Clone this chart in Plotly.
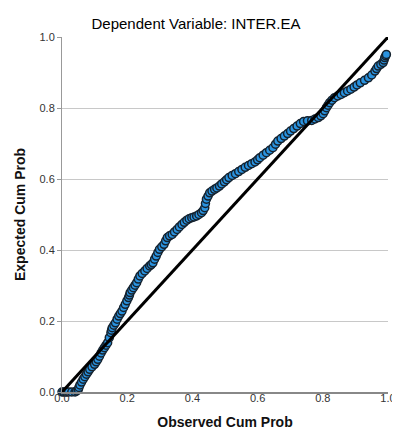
import plotly.graph_objects as go

observed = [0.0, 0.005, 0.01, 0.015, 0.02, 0.03, 0.04, 0.045, 0.05, 0.052, 0.055, 0.06, 0.065, 0.07,
            0.075, 0.08, 0.085, 0.092, 0.10, 0.105, 0.11, 0.115, 0.12, 0.125, 0.13, 0.135, 0.14,
            0.145, 0.15, 0.152, 0.154, 0.159, 0.164, 0.169, 0.174, 0.179, 0.184, 0.189, 0.194,
            0.199, 0.204, 0.207, 0.209, 0.214, 0.219, 0.224, 0.229, 0.234, 0.239, 0.246, 0.254,
            0.261, 0.269, 0.274, 0.279, 0.284, 0.289, 0.294, 0.299, 0.306, 0.313, 0.318, 0.323,
            0.330, 0.338, 0.345, 0.353, 0.360, 0.368, 0.375, 0.383, 0.390, 0.398, 0.405, 0.413,
            0.420, 0.428, 0.433, 0.438, 0.440, 0.443, 0.448, 0.453, 0.460, 0.468, 0.475, 0.483,
            0.490, 0.498, 0.505, 0.512, 0.522, 0.532, 0.542, 0.552, 0.562, 0.572, 0.582, 0.592,
            0.600, 0.607, 0.617, 0.627, 0.637, 0.647, 0.655, 0.662, 0.672, 0.682, 0.692, 0.701,
            0.711, 0.721, 0.731, 0.741, 0.753, 0.766, 0.776, 0.786, 0.794, 0.801, 0.806, 0.811,
            0.816, 0.821, 0.828, 0.836, 0.846, 0.856, 0.866, 0.876, 0.886, 0.896, 0.905, 0.915,
            0.928, 0.940, 0.950, 0.960, 0.965, 0.970, 0.978, 0.985, 0.988, 0.990, 0.993, 0.995]
expected = [0.0, 0.0, 0.0, 0.0, 0.0, 0.0, 0.0, 0.003, 0.007, 0.013, 0.02, 0.028, 0.036, 0.043,
            0.05, 0.057, 0.064, 0.071, 0.078, 0.085, 0.092, 0.101, 0.11, 0.118, 0.125, 0.132, 0.139,
            0.153, 0.167, 0.174, 0.181, 0.188, 0.195, 0.205, 0.214, 0.221, 0.228, 0.238, 0.247,
            0.257, 0.266, 0.273, 0.28, 0.287, 0.294, 0.301, 0.308, 0.318, 0.327, 0.334, 0.341,
            0.348, 0.355, 0.359, 0.364, 0.374, 0.383, 0.393, 0.402, 0.409, 0.416, 0.426, 0.435,
            0.440, 0.444, 0.451, 0.458, 0.465, 0.472, 0.478, 0.484, 0.488, 0.491, 0.493, 0.496,
            0.500, 0.505, 0.511, 0.519, 0.531, 0.543, 0.552, 0.561, 0.566, 0.571, 0.575, 0.580,
            0.586, 0.592, 0.598, 0.604, 0.610, 0.615, 0.621, 0.627, 0.633, 0.638, 0.643, 0.648,
            0.654, 0.660, 0.667, 0.674, 0.681, 0.688, 0.698, 0.707, 0.714, 0.721, 0.728, 0.735,
            0.742, 0.749, 0.756, 0.762, 0.764, 0.765, 0.769, 0.773, 0.778, 0.784, 0.792, 0.801,
            0.808, 0.815, 0.822, 0.829, 0.834, 0.838, 0.843, 0.848, 0.853, 0.859, 0.865, 0.871,
            0.878, 0.885, 0.893, 0.904, 0.911, 0.918, 0.923, 0.928, 0.935, 0.942, 0.947, 0.951]
ref_line = [0.0, 1.0]
tick_vals = [0.0, 0.2, 0.4, 0.6, 0.8, 1.0]
tick_text = ["0.0", "0.2", "0.4", "0.6", "0.8", "1.0"]

fig = go.Figure()
fig.add_trace(go.Scatter(
    x=observed, y=expected, mode="markers",
    marker=dict(size=8, color="#2a93e0", line=dict(color="#15222e", width=1.5)),
    cliponaxis=False, showlegend=False, hoverinfo="x+y"))
fig.add_trace(go.Scatter(
    x=ref_line, y=ref_line, mode="lines",
    line=dict(color="black", width=3), cliponaxis=True, showlegend=False))

fig.update_layout(
    width=400, height=439,
    margin=dict(l=53, r=12, t=29, b=55),
    paper_bgcolor="white", plot_bgcolor="white",
    font=dict(family="Liberation Sans, Arial, sans-serif", color="#222"),
    title=dict(text="Dependent Variable: INTER.EA", x=0.47, xanchor="center",
               y=0.963, yanchor="middle", font=dict(size=15, color="#000")),
)
fig.update_xaxes(
    range=[0, 1], tickvals=tick_vals, ticktext=tick_text, showgrid=False,
    showline=True, linecolor="#888", linewidth=2, zeroline=False,
    ticks="outside", ticklen=0, ticklabelstandoff=-5, tickfont=dict(size=11, color="#333"),
    title=dict(text="<b>Observed Cum Prob</b>", font=dict(size=14, color="#111"), standoff=14))
fig.update_yaxes(
    range=[0, 1], tickvals=tick_vals, ticktext=tick_text, showgrid=True,
    gridcolor="#c8c8c8", gridwidth=1, showline=True, linecolor="#999", linewidth=1,
    zeroline=False, ticks="outside", ticklen=4, tickcolor="#999",
    tickfont=dict(size=11, color="#333"),
    title=dict(text="<b>Expected Cum Prob</b>", font=dict(size=14, color="#111"), standoff=10))

fig.write_html("out.html")
